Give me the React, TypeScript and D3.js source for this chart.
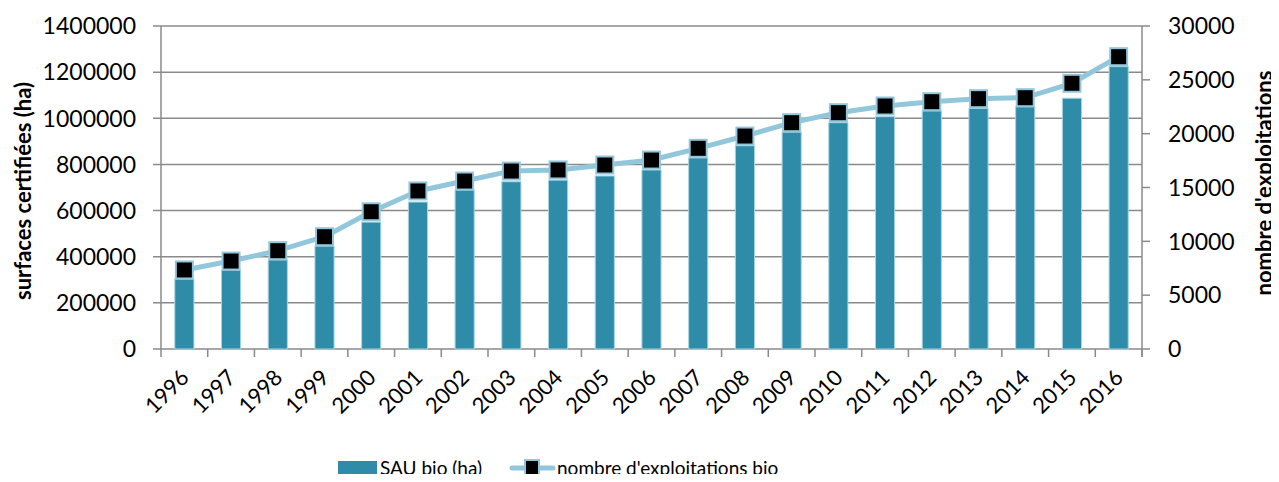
import React from "react";
import * as d3 from "d3";

const years = ["1996","1997","1998","1999","2000","2001","2002","2003","2004","2005","2006","2007","2008","2009","2010","2011","2012","2013","2014","2015","2016"];
const surfaces = [303000,342000,386000,446000,550000,637000,689000,725000,732000,750000,776000,828000,881000,940000,981000,1007000,1032000,1043000,1050000,1087000,1224000];
const exploitations = [7340,8170,9130,10430,12750,14680,15600,16530,16630,17090,17550,18640,19780,21020,21950,22570,22970,23250,23340,24680,27150];
const leftTicks = [0,200000,400000,600000,800000,1000000,1200000,1400000];
const rightTicks = [0,5000,10000,15000,20000,25000,30000];
const seriesNames = ["SAU bio (ha)", "nombre d'exploitations bio"];
const leftTitle = "surfaces certifiées (ha)";
const rightTitle = "nombre d'exploitations";

const W = 1271, H = 474;
const X0 = 161 - 8, X1 = 1142 - 8, Y0 = 349 - 8, YT = 26 - 8;
const FONT = "Lato, 'Open Sans', sans-serif";
const BAR = "#2e8ca8";
const BAR_STROKE = "#a8d5e4";
const LINE = "#92c7db";
const GRID = "#8a8a8a";

export default function App() {
  const x = d3.scaleBand<string>().domain(years).range([X0, X1]).paddingInner(0).paddingOuter(0);
  const yL = d3.scaleLinear().domain([0, 1400000]).range([Y0, YT]);
  const yR = d3.scaleLinear().domain([0, 30000]).range([Y0, YT]);
  const bw = x.bandwidth() * 0.41;
  const cx = (y: string) => (x(y) as number) + x.bandwidth() / 2;
  const line = d3.line<number>().x((_, i) => cx(years[i])).y((d) => yR(d));
  const ms = 17;
  const LY = 468 - 8;
  return (
    <svg width={W} height={H} style={{ display: "block", marginBottom: -8 }} fontFamily={FONT}>
      {leftTicks.map((t) => (
        <g key={"l" + t}>
          <line x1={X0 - 8} x2={X1} y1={yL(t)} y2={yL(t)} stroke={GRID} strokeWidth={1.5} />
          <text x={X0 - 25} y={yL(t)} dy="0.36em" textAnchor="end" fontSize={23} fill="#000">{t}</text>
        </g>
      ))}
      <line x1={X0} x2={X0} y1={YT} y2={Y0 + 8} stroke={GRID} strokeWidth={1.5} />
      <line x1={X1} x2={X1} y1={YT} y2={Y0 + 8} stroke={GRID} strokeWidth={1.5} />
      {rightTicks.map((t) => (
        <g key={"r" + t}>
          <line x1={X1} x2={X1 + 8} y1={yR(t)} y2={yR(t)} stroke={GRID} strokeWidth={1.5} />
          <text x={X1 + 26} y={yR(t)} dy="0.36em" textAnchor="start" fontSize={23} fill="#000">{t}</text>
        </g>
      ))}
      {years.map((yr) => (
        <g key={"x" + yr}>
          <line x1={(x(yr) as number) + x.bandwidth()} x2={(x(yr) as number) + x.bandwidth()} y1={Y0} y2={Y0 + 8} stroke={GRID} strokeWidth={1.5} />
          <text transform={`translate(${cx(yr) + 6},${Y0 + 30}) rotate(-45)`} textAnchor="end" fontSize={22} fill="#000">{yr}</text>
        </g>
      ))}
      {surfaces.map((v, i) => (
        <rect key={"b" + i} x={cx(years[i]) - bw / 2} y={yL(v)} width={bw} height={Y0 - yL(v)} fill={BAR} stroke={BAR_STROKE} strokeWidth={1} />
      ))}
      <path d={line(exploitations) || ""} fill="none" stroke={LINE} strokeWidth={5} strokeLinejoin="round" />
      {exploitations.map((v, i) => (
        <rect key={"m" + i} x={cx(years[i]) - ms / 2} y={yR(v) - ms / 2} width={ms} height={ms} fill="#000" stroke={LINE} strokeWidth={2} />
      ))}
      <text transform={`translate(23,${191 - 8}) rotate(-90)`} textAnchor="middle" fontSize={22} fontWeight="bold" fill="#000">{leftTitle}</text>
      <text transform={`translate(${1272 - 8},${183 - 8}) rotate(-90)`} textAnchor="middle" fontSize={22} fontWeight="bold" fill="#000">{rightTitle}</text>
      <g>
        <rect x={338 - 8} y={461 - 8} width={39} height={15} fill={BAR} />
        <text x={380 - 8} y={LY} dy="0.36em" fontSize={19} fill="#000">{seriesNames[0]}</text>
        <line x1={512 - 8} x2={553 - 8} y1={LY} y2={LY} stroke={LINE} strokeWidth={5} strokeLinecap="round" />
        <rect x={532 - 8 - 7} y={LY - 8} width={14} height={16} fill="#000" stroke={LINE} strokeWidth={2} />
        <text x={557 - 8} y={LY} dy="0.36em" fontSize={19} fill="#000">{seriesNames[1]}</text>
      </g>
    </svg>
  );
}
